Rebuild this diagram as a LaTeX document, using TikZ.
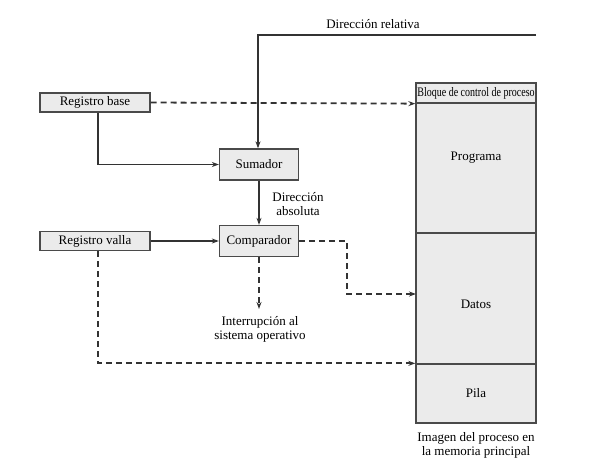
\documentclass[tikz,border=0pt]{standalone}
\usepackage{fontspec}
\setmainfont{Liberation Serif}
\usetikzlibrary{arrows.meta}
\definecolor{boxfill}{HTML}{EBEBEB}
\definecolor{boxline}{HTML}{4A4A4A}
\definecolor{wire}{HTML}{333333}
\tikzset{
  blk/.style={draw=boxline, fill=boxfill, line width=1.3pt, inner sep=0pt, anchor=center},
  txt/.style={inner sep=0pt, align=center, font=\fontsize{13}{14}\selectfont, text=black},
  wirel/.style={draw=wire, line width=1.8pt, -{Stealth[length=7pt,width=5pt]}},
  dwire/.style={draw=wire, line width=1.8pt, dash pattern=on 6pt off 4pt, -{Stealth[length=7pt,width=5pt]}},
}
\begin{document}
\begin{tikzpicture}[x=1pt,y=-1pt]
\useasboundingbox (0,0) rectangle (613,460);
% left registers
\node[blk, minimum width=110pt, minimum height=19pt, txt] (base) at (95,102.5) {Registro base};
\node[blk, minimum width=110pt, minimum height=19pt, txt] (valla) at (95,241) {Registro valla};
% middle blocks
\node[blk, minimum width=79pt, minimum height=31pt, txt] (sum) at (259,164.5) {Sumador};
\node[blk, minimum width=79pt, minimum height=31pt, txt] (comp) at (259,241) {Comparador};
% memory image
\node[blk, minimum width=120pt, minimum height=20pt] (pcb) at (476,93) {};
\node[blk, minimum width=120pt, minimum height=130pt] (prog) at (476,168) {};
\node[blk, minimum width=120pt, minimum height=131pt] (datos) at (476,298.5) {};
\node[blk, minimum width=120pt, minimum height=59pt] (pila) at (476,393.5) {};
\node[txt] (pcbt) at (476,93) {\scalebox{0.77}[1]{Bloque de control de proceso}};
\node[txt] (progt) at (476,158) {Programa};
\node[txt] (datost) at (476,304) {Datos};
\node[txt] (pilat) at (476,393) {Pila};
\node[txt] (imgt) at (476,445) {Imagen del proceso en\\la memoria principal};
% labels
\node[txt] (relt) at (373,24) {Dirección relativa};
\node[txt] (abst) at (298,204) {Dirección\\absoluta};
\node[txt] (intt) at (260,329) {Interrupción al\\sistema operativo};
% connectors
\coordinate (relstart) at (536,35);
\draw[wirel] (relstart) -| ([xshift=-1pt]sum.north);
\draw[wirel] ([xshift=3pt]base.south) |- (sum.west);
\draw[wirel] (sum.south) -- (comp.north);
\draw[wirel] (valla.east) -- (comp.west);
\draw[dwire] (base.east) -- (pcb.south west);
\coordinate (datin) at (416,294);
\coordinate (bend) at (347,241);
\draw[dwire] (comp.east) -- (bend) |- (datin);
\coordinate (intend) at (259,309);
\draw[dwire] (comp.south) -- (intend);
\draw[dwire] ([xshift=3pt]valla.south) |- (pila.north west);
\end{tikzpicture}
\end{document}
